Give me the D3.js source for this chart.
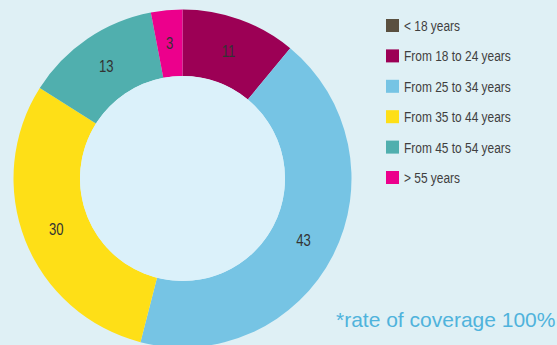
<!DOCTYPE html>
<html>
<head>
<meta charset="utf-8">
<script src="https://cdn.jsdelivr.net/npm/d3@7"></script>
<style>
  html, body { margin: 0; padding: 0; background: #dff0f5; overflow: hidden; }
  svg { display: block; }
</style>
</head>
<body>
<div id="chart"></div>
<script>

// age groups and share of respondents (%)
var categories = ["< 18 years", "From 18 to 24 years", "From 25 to 34 years",
  "From 35 to 44 years", "From 45 to 54 years", "> 55 years"];
var values = [0, 11, 43, 30, 13, 3];
var colors = ["#5a5040", "#9c0055", "#76c4e4", "#fedf17", "#50afae", "#ec008c"];
var footnote = "*rate of coverage 100%";

var width = 557, height = 345;
var narrow = 0.77; // squeeze to mimic the condensed face of the original

var svg = d3.select("#chart").append("svg")
  .attr("width", width)
  .attr("height", height);

svg.append("rect")
  .attr("width", width)
  .attr("height", height)
  .attr("fill", "#dff0f5");

var data = categories.map(function(c, i) {
  return { name: c, value: values[i], color: colors[i] };
});

// donut
var outerR = 169, innerR = 102.5;
var g = svg.append("g")
  .attr("transform", "translate(182.5,178.5)");

var pie = d3.pie()
  .sort(null)
  .value(function(d) { return d.value; });

var arc = d3.arc()
  .innerRadius(innerR)
  .outerRadius(outerR);

var arcs = pie(data).filter(function(d) { return d.data.value > 0; });

g.selectAll("path.slice")
  .data(arcs)
  .enter().append("path")
  .attr("class", "slice")
  .attr("d", arc)
  .attr("fill", function(d) { return d.data.color; });

g.append("circle")
  .attr("r", innerR)
  .attr("fill", "#dbf1fa");

g.selectAll("text.val")
  .data(arcs)
  .enter().append("text")
  .attr("class", "val")
  .attr("transform", function(d) {
    return "translate(" + arc.centroid(d) + ") scale(" + narrow + ",1)";
  })
  .attr("text-anchor", "middle")
  .attr("dy", "0.36em")
  .style("font-family", "'Liberation Sans', Arial, sans-serif")
  .style("font-size", "17px")
  .attr("fill", "#333")
  .text(function(d) { return d.data.value; });

// legend
var legend = svg.append("g")
  .attr("transform", "translate(386,25.5)");

var row = legend.selectAll("g.row")
  .data(data)
  .enter().append("g")
  .attr("class", "row")
  .attr("transform", function(d, i) { return "translate(0," + (i * 30.4) + ")"; });

row.append("rect")
  .attr("x", 0)
  .attr("y", -6.5)
  .attr("width", 13)
  .attr("height", 13)
  .attr("fill", function(d) { return d.color; });

row.append("text")
  .attr("transform", "translate(18,0) scale(" + narrow + ",1)")
  .attr("dy", "0.36em")
  .style("font-family", "'Liberation Sans', Arial, sans-serif")
  .style("font-size", "15.5px")
  .attr("fill", "#3f3f3f")
  .text(function(d) { return d.name; });

// footnote
svg.append("text")
  .attr("x", 336)
  .attr("y", 327)
  .style("font-family", "'Liberation Sans', Arial, sans-serif")
  .style("font-size", "21px")
  .attr("fill", "#4fb3dc")
  .text(footnote);

</script>
</body>
</html>
